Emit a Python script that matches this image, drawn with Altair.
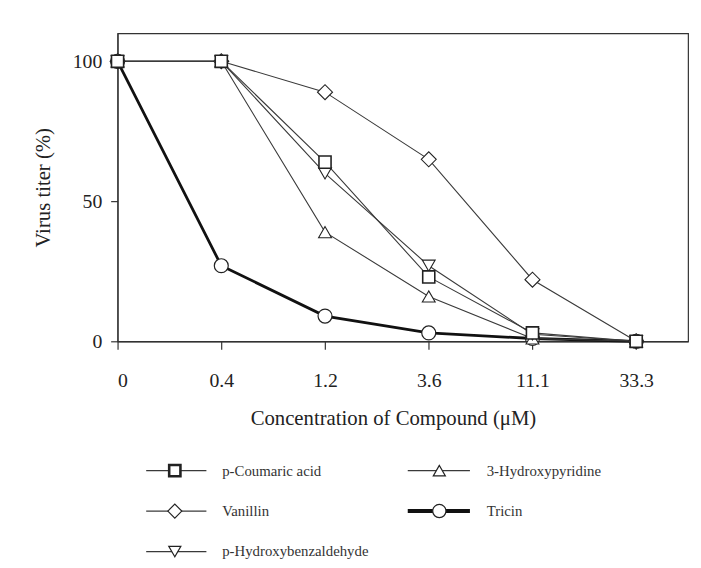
import altair as alt
import pandas as pd

# ---- data ----
conc_labels = ["0", "0.4", "1.2", "3.6", "11.1", "33.3"]
series_names = ["p-Coumaric acid", "Vanillin", "p-Hydroxybenzaldehyde",
                "3-Hydroxypyridine", "Tricin"]
coumaric = [100, 100, 64, 23, 3, 0]
vanillin = [100, 100, 89, 65, 22, 0]
hydroxybenz = [100, 100, 60, 27, 2.5, 0]
hydroxypyr = [100, 100, 39, 16, 1, 0]
tricin = [100, 27, 9, 3, 1, 0]

series_values = {
    "p-Coumaric acid": coumaric,
    "Vanillin": vanillin,
    "p-Hydroxybenzaldehyde": hydroxybenz,
    "3-Hydroxypyridine": hydroxypyr,
    "Tricin": tricin,
}

# ---- styles ----
shapes = ["square", "diamond", "triangle-down", "triangle-up", "circle"]
sizes = [150, 230, 170, 170, 200]
leg_sizes = [130, 200, 150, 150, 180]
line_widths = [1.1, 1.1, 1.1, 1.1, 2.8]
point_widths = [1.6, 1.1, 1.1, 1.1, 1.2]
leg_line_widths = [1.3, 1.3, 1.3, 1.3, 4]
leg_point_widths = [2.6, 1.2, 1.2, 1.2, 1.2]
line_colors = ["#3a3a3a", "#3a3a3a", "#3a3a3a", "#3a3a3a", "#111111"]
FONT = "Liberation Serif"
INK = "#222222"


def oscale(rng):
    return alt.Scale(type="ordinal", domain=series_names, range=rng)


# draw order: square on top
draw_order = ["Tricin", "3-Hydroxypyridine", "p-Hydroxybenzaldehyde",
              "Vanillin", "p-Coumaric acid"]
rows = []
for name in draw_order:
    for i, v in enumerate(series_values[name]):
        rows.append({"series": name, "idx": i, "titer": v})
df = pd.DataFrame(rows)

W, H = 578, 312
label_expr = "[" + ",".join("'%s'" % s for s in conc_labels) + "][datum.value]"

xs = alt.Scale(domain=[0, len(conc_labels) - 0.5], nice=False, zero=False)
ys = alt.Scale(domain=[0, 110], nice=False)

x_enc = alt.X("idx:Q", scale=xs,
              axis=alt.Axis(values=list(range(len(conc_labels))), labelExpr=label_expr,
                            title="Concentration of Compound (\u03bcM)",
                            titleX=W / 2 - 10,
                            tickSize=8, labelPadding=22, titlePadding=17,
                            labelFontSize=20, titleFontSize=21))
y_enc = alt.Y("titer:Q", scale=ys,
              axis=alt.Axis(values=[0, 50, 100], title="Virus titer (%)",
                            tickSize=7, labelPadding=9, titlePadding=19,
                            labelFontSize=20, titleFontSize=21))

lines = alt.Chart(df).mark_line().encode(
    x=x_enc, y=y_enc, detail="series:N",
    color=alt.Color("series:N", scale=oscale(line_colors), legend=None),
    strokeWidth=alt.StrokeWidth("series:N", scale=oscale(line_widths), legend=None),
)
points = alt.Chart(df).mark_point(filled=True, fill="white", stroke="#222222", opacity=1).encode(
    x=x_enc, y=y_enc,
    shape=alt.Shape("series:N", scale=alt.Scale(domain=series_names, range=shapes), legend=None),
    size=alt.Size("series:N", scale=oscale(sizes), legend=None),
    strokeWidth=alt.StrokeWidth("series:N", scale=oscale(point_widths), legend=None),
)
plot = alt.layer(lines, points).resolve_scale(strokeWidth="independent")

# ---- legend (drawn below the plot) ----
leg_df = pd.DataFrame({"series": series_names, "i": list(range(len(series_names)))})
lxs = alt.Scale(domain=[0, W], nice=False, zero=False)
lys = alt.Scale(domain=[0, H], nice=False, zero=False, reverse=True)
leg_base = alt.Chart(leg_df).transform_calculate(
    col="floor(datum.i / 3)", row="datum.i % 3"
).transform_calculate(
    lx1="29 + datum.col * 265", lx2="90 + datum.col * 267",
    mx="58 + datum.col * 268", tx="106 + datum.col * 268",
    ly="443 + datum.row * 41",
)
leg_lines = leg_base.mark_rule().encode(
    x=alt.X("lx1:Q", scale=lxs, axis=None), x2="lx2:Q",
    y=alt.Y("ly:Q", scale=lys, axis=None),
    color=alt.Color("series:N", scale=oscale(line_colors), legend=None),
    strokeWidth=alt.StrokeWidth("series:N", scale=oscale(leg_line_widths), legend=None),
)
leg_points = leg_base.mark_point(filled=True, fill="white", stroke="#222222", opacity=1).encode(
    x=alt.X("mx:Q", scale=lxs, axis=None),
    y=alt.Y("ly:Q", scale=lys, axis=None),
    shape=alt.Shape("series:N", scale=alt.Scale(domain=series_names, range=shapes), legend=None),
    size=alt.Size("series:N", scale=oscale(leg_sizes), legend=None),
    strokeWidth=alt.StrokeWidth("series:N", scale=oscale(leg_point_widths), legend=None),
)
leg_text = leg_base.mark_text(align="left", baseline="middle", font=FONT, fontSize=15, color="#333333").encode(
    x=alt.X("tx:Q", scale=lxs, axis=None),
    y=alt.Y("ly:Q", scale=lys, axis=None),
    text="series:N",
)
legend = alt.layer(leg_lines, leg_points, leg_text).resolve_scale(
    strokeWidth="independent", size="independent")

chart = alt.layer(plot, legend).resolve_scale(
    x="independent", y="independent", strokeWidth="independent",
    shape="independent", size="independent", color="independent",
).properties(
    width=W, height=H, background="white",
    padding={"left": 25, "top": 22, "right": 5, "bottom": 5},
).configure_axis(
    labelFont=FONT, titleFont=FONT, labelColor=INK, titleColor=INK,
    titleFontWeight="normal", domainColor="#333333", tickColor="#333333",
    domainWidth=1.2, tickWidth=1.2, grid=False,
).configure_view(stroke="#333333", strokeWidth=1.2)

chart.save("out.html", embed_options={"renderer": "svg", "actions": False})
